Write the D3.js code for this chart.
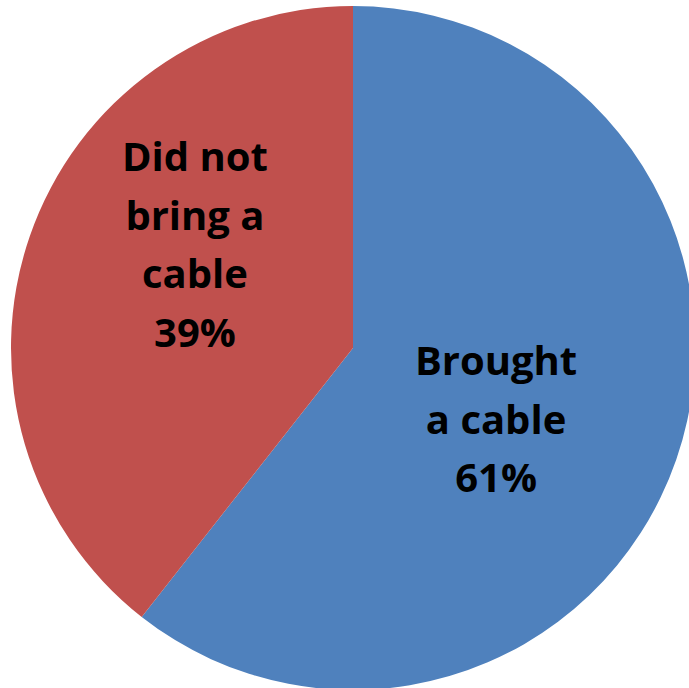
<!DOCTYPE html>
<html><head><meta charset="utf-8">
<script src="https://cdn.jsdelivr.net/npm/d3@7"></script>
<style>html,body{margin:0;padding:0;background:#fff;overflow:hidden}</style>
</head><body>
<svg id="chart" width="689" height="688"></svg>
<script>
const categories = ["Brought a cable", "Did not bring a cable"];
const values = [60.6, 39.4];
const labelLines = [["Brought", "a cable", "61%"], ["Did not", "bring a", "cable", "39%"]];
const colors = ["#4F81BD", "#C0504D"];

const svg = d3.select("#chart");
const cx = 353, cy = 348, R = 342;
const g = svg.append("g").attr("transform", `translate(${cx},${cy})`);
const pie = d3.pie().sort(null).value(d => d)(values);
const arc = d3.arc().innerRadius(0).outerRadius(R);
g.selectAll("path").data(pie).join("path")
  .attr("d", arc).attr("fill", (d, i) => colors[i]);

const labelArc = d3.arc().innerRadius(0).outerRadius(340);
const nudges = [[-17.6, 30], [2.6, -33.4]];
const lineH = 58.7;
pie.forEach((d, i) => {
  const [x, y] = labelArc.centroid(d);
  const lines = labelLines[i];
  const t = g.append("text")
    .attr("text-anchor", "middle")
    .attr("font-family", "'Open Sans', sans-serif")
    .attr("font-weight", "bold")
    .attr("font-size", 40)
    .attr("fill", "#000");
  const y0 = y + nudges[i][1] - (lines.length - 1) * lineH / 2;
  lines.forEach((s, j) => {
    t.append("tspan").attr("x", x + nudges[i][0]).attr("y", y0 + j * lineH).text(s);
  });
});
</script>
</body></html>
